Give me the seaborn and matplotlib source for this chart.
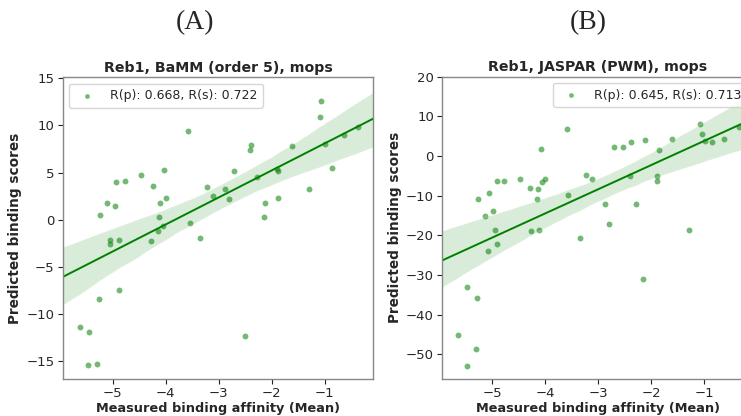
import numpy as np
import pandas as pd
import matplotlib
matplotlib.use("Agg")
import matplotlib.pyplot as plt
import seaborn as sns

# Reb1 measured affinities vs. predicted binding scores (BaMM order 5)
bamm_affinity = [-5.24, -5.11, -4.96, -4.94, -4.77, -4.46, -4.23, -4.10, -4.12, -4.03,
                 -3.99, -4.05, -4.14, -3.57, -3.54, -3.35, -3.22, -3.11, -2.87, -2.80,
                 -2.71, -2.40, -2.38, -2.28, -2.12, -2.15, -1.90, -1.88, -1.87, -1.62,
                 -1.30, -1.09, -1.06, -1.00, -0.86, -0.64, -0.36, -5.05, -5.04, -4.88,
                 -4.27, -4.87, -5.26, -5.61, -5.44, -2.51, -5.46, -5.29]
bamm_score = [0.55, 1.72, 1.43, 4.00, 4.15, 4.79, 3.55, 1.72, 0.26, 5.32,
              2.28, -0.69, -1.25, 9.38, -0.30, -1.96, 3.44, 2.56, 3.23, 2.20,
              5.17, 7.36, 7.89, 4.50, 1.72, 0.30, 5.42, 5.17, 2.31, 7.82,
              3.26, 10.86, 12.63, 8.03, 5.46, 9.03, 9.87, -2.20, -2.63, -2.14,
              -2.28, -7.44, -8.45, -11.42, -11.92, -12.37, -15.44, -15.31]

# Reb1 measured affinities vs. predicted binding scores (JASPAR PWM)
pwm_affinity = [-5.26, -5.13, -5.06, -4.99, -4.95, -4.90, -4.78, -4.48, -4.29, -4.26,
                -4.15, -4.14, -4.12, -4.08, -4.05, -4.00, -3.58, -3.56, -3.35, -3.23,
                -3.12, -2.87, -2.80, -2.71, -2.53, -2.39, -2.38, -2.28, -2.12, -1.89,
                -1.89, -1.85, -1.60, -1.28, -1.07, -1.04, -0.99, -0.85, -0.62, -0.34,
                -5.07, -4.90, -2.15, -5.47, -5.29, -5.65, -5.31, -5.48]
pwm_score = [-10.73, -15.19, -9.22, -13.75, -18.72, -6.20, -6.20, -5.87, -7.96, -18.89,
             -10.83, -8.31, -18.64, 1.86, -6.55, -5.69, 6.90, -9.72, -20.73, -4.86,
             -5.69, -12.17, -17.03, 2.37, 2.19, -4.94, 3.63, -12.00, 4.13, -4.94,
             -6.20, 1.44, 4.38, -18.72, 8.06, 5.64, 3.70, 3.53, 4.38, 7.23,
             -24.00, -22.24, -31.10, -33.07, -35.90, -45.20, -48.70, -52.90]

bamm_label = "R(p): 0.668, R(s): 0.722"
pwm_label = "R(p): 0.645, R(s): 0.713"

sns.set_style("ticks")
plt.rcParams["font.family"] = ["DejaVu Sans"]

fig = plt.figure(figsize=(7.41, 4.16), dpi=100)
ax_a = fig.add_axes([0.0846, 0.0889, 0.4192, 0.7252])
ax_b = fig.add_axes([0.5969, 0.0889, 0.4192, 0.7267])

panels = [
    (ax_a, bamm_affinity, bamm_score, bamm_label, "Reb1, BaMM (order 5), mops",
     (-16.9, 15.1), [-15, -10, -5, 0, 5, 10, 15], "upper left"),
    (ax_b, pwm_affinity, pwm_score, pwm_label, "Reb1, JASPAR (PWM), mops",
     (-56.2, 20.0), [-50, -40, -30, -20, -10, 0, 10, 20], "upper right"),
]

for ax, xs, ys, lab, title, ylim, yticks, loc in panels:
    df = pd.DataFrame({"affinity": xs, "score": ys})
    ax.set_xlim(-5.94, -0.08)
    sns.regplot(data=df, x="affinity", y="score", ax=ax, color="green",
                label=lab, truncate=False, seed=0,
                scatter_kws={"s": 18, "alpha": 0.55, "linewidths": 0},
                line_kws={"linewidth": 1.4})
    ax.set_xlim(-5.94, -0.08)
    ax.set_ylim(*ylim)
    ax.set_xticks([-5, -4, -3, -2, -1])
    ax.set_yticks(yticks)
    ax.set_title(title, fontsize=10.2, fontweight="bold", pad=4)
    ax.set_xlabel("Measured binding affinity (Mean)", fontsize=9.3,
                  fontweight="bold", labelpad=1)
    ax.set_ylabel("Predicted binding scores", fontsize=9.8, fontweight="bold",
                  labelpad=3)
    ax.tick_params(labelsize=9.5, length=3.5, pad=2.5, color="#222222")
    for sp in ax.spines.values():
        sp.set_color("#888888")
        sp.set_linewidth(1.0)
    ax.legend(loc=loc, fontsize=9, markerscale=0.8, frameon=True,
              handletextpad=0.8, borderpad=0.45)

fig.text(0.263, 0.945, "(A)", ha="center", va="center",
         fontsize=20, family="Liberation Serif")
fig.text(0.794, 0.945, "(B)", ha="center", va="center",
         fontsize=20, family="Liberation Serif")

fig.savefig("out.png", dpi=100)
